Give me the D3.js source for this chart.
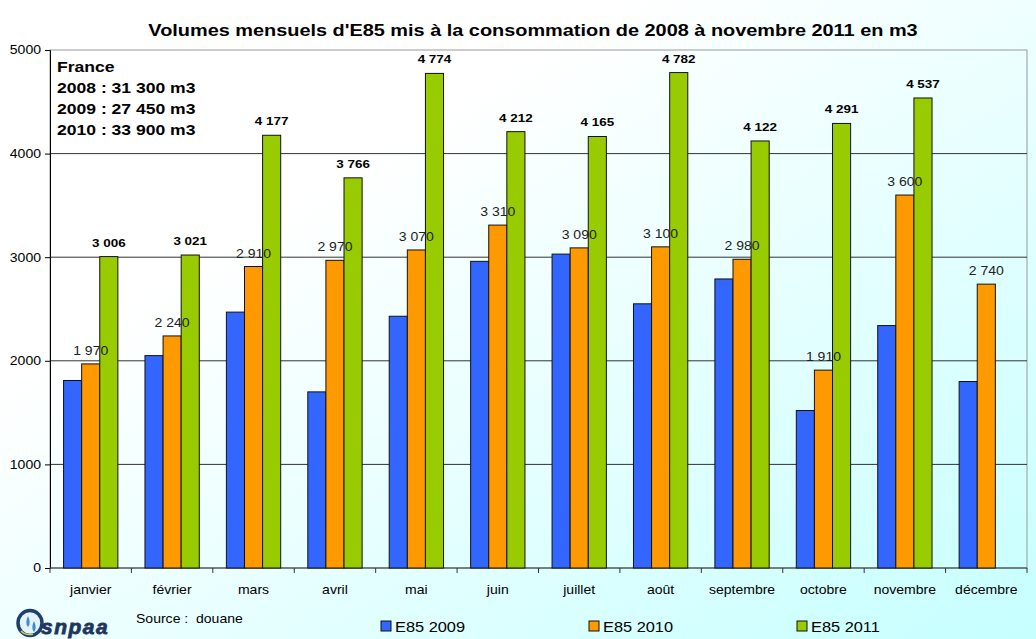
<!DOCTYPE html>
<html lang="fr">
<meta charset="utf-8">
<head>
    <script src="https://d3js.org/d3.v7.min.js"></script>
</head>
<body style="margin:0">
<style>
    text { font-family: Arial, "Liberation Sans", sans-serif; }
</style>
<svg width="1036" height="639"></svg>
</body>

<script>
// data
var months = ["janvier", "février", "mars", "avril", "mai", "juin", "juillet", "août", "septembre", "octobre", "novembre", "décembre"];
var series = ["E85 2009", "E85 2010", "E85 2011"];
var v2009 = [1810, 2050, 2470, 1700, 2430, 2960, 3030, 2550, 2790, 1520, 2340, 1800];
var v2010 = [1970, 2240, 2910, 2970, 3070, 3310, 3090, 3100, 2980, 1910, 3600, 2740];
var v2011 = [3006, 3021, 4177, 3766, 4774, 4212, 4165, 4782, 4122, 4291, 4537, null];
var yTicks = [0, 1000, 2000, 3000, 4000, 5000];
var boxLines = ["France", "2008 : 31 300 m3", "2009 : 27 450 m3", "2010 : 33 900 m3"];
var colors = ["#3366ff", "#ff9900", "#99cc00"];

var svg = d3.select("svg");
var W = 1036, H = 639;
var mLeft = 50, mRight = 1027, mTop = 50, mBottom = 568;
var SX = 1.17; // texts in the picture are a bit stretched sideways

var fmt = d3.formatLocale({decimal: ",", thousands: " ", grouping: [3], currency: ["", ""]}).format(",d");

// stretch a text horizontally around its x anchor
function stretch(sel) {
    sel.attr("transform", function() {
        var x = +d3.select(this).attr("x") || 0;
        return "translate(" + x + ",0) scale(" + SX + ",1) translate(" + (-x) + ",0)";
    });
}

// background gradient
var defs = svg.append("defs");
var grad = defs.append("linearGradient").attr("id", "bg")
    .attr("x1", 0).attr("y1", 0).attr("x2", 1).attr("y2", 1);
grad.append("stop").attr("offset", "0.3").attr("stop-color", "#ffffff");
grad.append("stop").attr("offset", "1").attr("stop-color", "#c6ffff");
svg.append("rect").attr("width", W).attr("height", H).attr("fill", "url(#bg)");

// scales
var x0 = d3.scaleBand().domain(months).range([mLeft, mRight]).paddingInner(0.333).paddingOuter(0.1665);
var x1 = d3.scaleBand().domain(series).range([0, x0.bandwidth()]);
var y = d3.scaleLinear().domain([0, 5000]).range([mBottom, mTop]);

// title
svg.append("text")
    .attr("x", 533).attr("y", 36)
    .attr("text-anchor", "middle")
    .attr("font-size", "17px").attr("font-weight", "bold")
    .text("Volumes mensuels d'E85 mis à la consommation de 2008 à novembre 2011 en m3")
    .call(stretch);

// frame + gridlines
svg.append("rect")
    .attr("x", mLeft).attr("y", mTop).attr("width", mRight - mLeft).attr("height", mBottom - mTop)
    .attr("fill", "none").attr("stroke", "#999");
svg.append("g").selectAll("line")
    .data(yTicks.filter(function(d) { return d > 0 && d < 5000; }))
    .enter().append("line")
    .attr("x1", mLeft).attr("x2", mRight)
    .attr("y1", function(d) { return y(d); }).attr("y2", function(d) { return y(d); })
    .attr("stroke", "#333").attr("stroke-width", 1);

// text box
svg.append("rect").attr("x", mLeft + 1).attr("y", mTop + 1).attr("width", 160).attr("height", 92).attr("fill", "#fff");
svg.append("g").selectAll("text")
    .data(boxLines)
    .enter().append("text")
    .attr("x", 57)
    .attr("y", function(d, i) { return 72 + i * 21; })
    .attr("font-size", "15px").attr("font-weight", "bold")
    .text(function(d) { return d; })
    .call(stretch);

// y axis
var yAxis = svg.append("g")
    .attr("transform", "translate(" + mLeft + ",0)")
    .call(d3.axisLeft(y).tickValues(yTicks).tickSize(5).tickFormat(d3.format("d")));
yAxis.selectAll("text").attr("font-size", "12px").attr("fill", "#000").attr("x", -9)
    .attr("font-family", "Arial, 'Liberation Sans', sans-serif").call(stretch);
yAxis.select(".domain").attr("stroke", "#000");

// x axis ticks (between categories)
var xAxis = svg.append("g")
    .attr("transform", "translate(0," + mBottom + ")");
xAxis.append("line").attr("x1", mLeft).attr("x2", mRight).attr("stroke", "#333");
var step = x0.step();
xAxis.selectAll(".tk")
    .data(d3.range(months.length + 1))
    .enter().append("line")
    .attr("x1", function(i) { return mLeft + i * step; })
    .attr("x2", function(i) { return mLeft + i * step; })
    .attr("y1", 0).attr("y2", 5).attr("stroke", "#333");
xAxis.selectAll(".lbl")
    .data(months)
    .enter().append("text")
    .attr("x", function(d) { return x0(d) + x0.bandwidth() / 2; })
    .attr("y", 26)
    .attr("text-anchor", "middle")
    .attr("font-size", "12px")
    .text(function(d) { return d; })
    .call(stretch);

// bars
var rows = months.map(function(m, i) {
    return {month: m, vals: [v2009[i], v2010[i], v2011[i]]};
});
var groups = svg.append("g").selectAll("g")
    .data(rows)
    .enter().append("g")
    .attr("transform", function(d) { return "translate(" + x0(d.month) + ",0)"; });

groups.selectAll("rect")
    .data(function(d) {
        return d.vals.map(function(v, j) { return {s: series[j], v: v, j: j}; })
            .filter(function(e) { return e.v != null; });
    })
    .enter().append("rect")
    .attr("x", function(d) { return x1(d.s); })
    .attr("y", function(d) { return y(d.v); })
    .attr("width", x1.bandwidth())
    .attr("height", function(d) { return y(0) - y(d.v); })
    .attr("fill", function(d) { return colors[d.j]; })
    .attr("stroke", "#111").attr("stroke-width", 1);

// labels 2010 (normal) and 2011 (bold)
groups.append("text")
    .attr("x", x1("E85 2010") + x1.bandwidth() / 2)
    .attr("y", function(d) { return y(d.vals[1]) - 9; })
    .attr("text-anchor", "middle")
    .attr("font-size", "12px").attr("fill", "#222")
    .text(function(d) { return fmt(d.vals[1]); })
    .call(stretch);

groups.filter(function(d) { return d.vals[2] != null; })
    .append("text")
    .attr("x", x1("E85 2011") + x1.bandwidth() / 2)
    .attr("y", function(d) { return y(d.vals[2]) - 10; })
    .attr("text-anchor", "middle")
    .attr("font-size", "11.5px").attr("font-weight", "bold")
    .text(function(d) { return fmt(d.vals[2]); })
    .call(stretch);

// source
svg.append("text").attr("x", 136).attr("y", 623).attr("font-size", "12px")
    .attr("xml:space", "preserve")
    .text("Source :  douane")
    .call(stretch);

// legend
var legX = [381, 589, 797];
var leg = svg.append("g").selectAll("g")
    .data(series)
    .enter().append("g")
    .attr("transform", function(d, i) { return "translate(" + legX[i] + ",621)"; });
leg.append("rect").attr("width", 10).attr("height", 10)
    .attr("fill", function(d, i) { return colors[i]; })
    .attr("stroke", "#111");
leg.append("text").attr("x", 14).attr("y", 11).attr("font-size", "14px")
    .text(function(d) { return d; })
    .call(stretch);

// logo (approximation)
var logo = svg.append("g").attr("transform", "translate(16,609)");
logo.append("ellipse").attr("cx", 14).attr("cy", 14).attr("rx", 12).attr("ry", 12.5)
    .attr("fill", "#e6f2fa").attr("stroke", "#1f3f6e").attr("stroke-width", 3.5);
logo.append("path").attr("d", "M5,22 Q10,27 17,25").attr("fill", "none").attr("stroke", "#c9d84a").attr("stroke-width", 1.5);
logo.append("path").attr("d", "M12,7 Q8.5,14 12,18 Q15.5,14 12,7Z").attr("fill", "#3b8fd0");
logo.append("path").attr("d", "M18,12 Q14.5,19 18,23 Q21.5,19 18,12Z").attr("fill", "#3b8fd0");
logo.append("text").attr("x", 25).attr("y", 25)
    .attr("font-size", "21px").attr("font-weight", "bold").attr("font-style", "italic")
    .attr("fill", "#1f3560").attr("stroke", "#1f3560").attr("stroke-width", 0.8)
    .attr("letter-spacing", "1.5")
    .text("snpaa");
</script>
</html>
